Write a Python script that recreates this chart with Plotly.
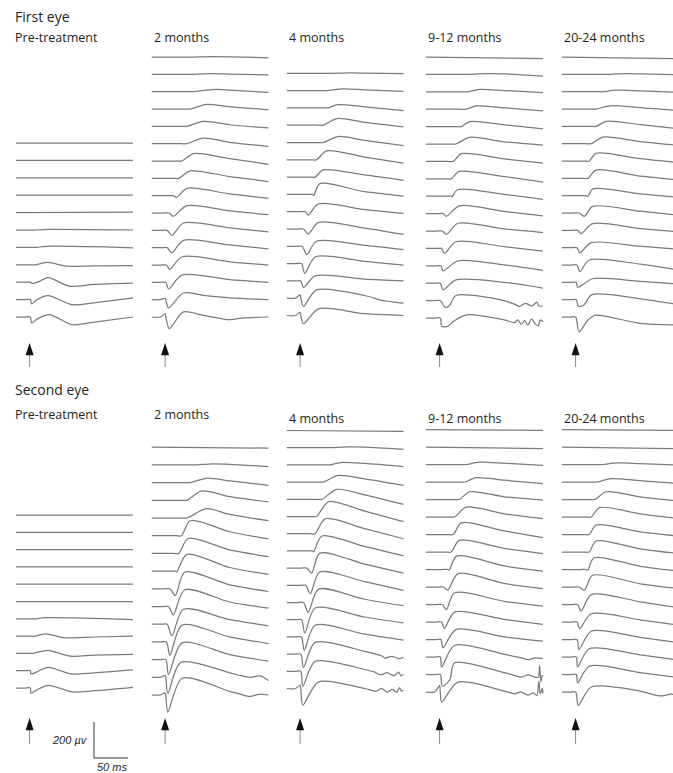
import plotly.graph_objects as go

# ---------------- DATA ----------------
# Each trace row (top trace first):
# [onset ms, a-wave depth uV, a-wave time ms, b-wave amp uV, b-wave time ms, value at 95 ms uV, value at 152 ms uV]
# Extra key points (ms, uV) per trace index for late troughs, flash artefacts and noise.

PANEL_LABELS = ["Pre-treatment", "2 months", "4 months", "9-12 months", "20-24 months"]
GROUP_LABELS = ["First eye", "Second eye"]

pre_1 = [
    [None, 0, 0, 0, 0, None, 0],
    [None, 0, 0, 0, 0, None, 0],
    [None, 0, 0, 0, 0, None, 0],
    [None, 0, 0, 0, 0, None, 0],
    [None, 0, 0, 0, 0, None, 2],
    [10, 0, 0, 3, 25, None, 0],
    [10, 0, 0, 6, 25, None, -2],
    [8, 0, 0, 13, 27, -6, -4],
    [1, 7, 4, 26, 27, -12, -5],
    [1, 24, 3, 22, 27, -18, 9],
    [1, 33, 3, 13, 29, -28, 0],
]
pre_1_extra = {7: [(55, -8)], 8: [(12, 0), (58, -22)],
               9: [(10, -2), (62, -28)], 10: [(12, -9), (63, -43)]}

m2_1 = [
    [40, 0, 0, 2, 70, 1, -4],
    [35, 0, 0, 4, 70, 2, -3],
    [37, 0, 0, 13, 75, 9, -4],
    [37, 0, 0, 26, 61, 12, -4],
    [32, 0, 0, 28, 56, 9, -9],
    [32, 0, 0, 31, 56, 8, -15],
    [24, 0, 0, 41, 42, 13, -18],
    [20, 0, 0, 41, 37, 10, -18],
    [12, 9, 17, 41, 32, 10, -15],
    [6, 18, 12, 41, 32, 12, -9],
    [3, 28, 10, 41, 27, 14, -9],
    [3, 28, 10, 41, 27, 15, -6],
    [2, 24, 7, 46, 25, 18, 0],
    [1, 37, 5, 41, 25, 15, 0],
    [1, 46, 5, 37, 27, 10, 0],
    [1, 65, 6, 28, 27, -15, 0],
]
m2_1_extra = {14: [(0, 8), (60, 22)],
              15: [(0, 18), (12, -40), (55, 10), (115, -5)]}

m4_1 = [
    [40, 0, 0, 2, 75, 1, -2],
    [40, 0, 0, 9, 63, 4, -4],
    [40, 0, 0, 18, 56, 6, -15],
    [34, 0, 0, 37, 54, 16, -9],
    [34, 0, 0, 33, 56, 12, -18],
    [24, 0, 0, 50, 39, 15, -18],
    [22, 0, 0, 40, 34, 12, -18],
    [18, 5, 20, 60, 29, 15, -9],
    [8, 18, 12, 43, 27, 12, -9],
    [5, 28, 12, 37, 27, 5, -30],
    [3, 46, 10, 28, 24, 5, -18],
    [2, 55, 7, 37, 22, 12, -9],
    [1, 37, 5, 28, 22, 10, 0],
    [1, 46, 5, 46, 24, 15, -28],
    [1, 46, 5, 37, 27, 10, 0],
]
m4_1_extra = {13: [(0, 18), (120, -12), (135, -20)], 14: [(0, 18)]}

m9_1 = [
    [None, 0, 0, 0, 0, None, -9],
    [40, 0, 0, 4, 70, 3, -9],
    [41, 0, 0, 13, 59, 7, -4],
    [39, 0, 0, 18, 54, 8, -9],
    [32, 0, 0, 28, 44, 10, -13],
    [24, 0, 0, 37, 44, 12, -6],
    [20, 0, 0, 43, 32, 14, -9],
    [17, 0, 0, 41, 29, 12, -18],
    [17, 4, 18, 37, 27, 10, -18],
    [5, 15, 10, 43, 29, 12, -13],
    [4, 18, 10, 43, 27, 12, -9],
    [3, 28, 7, 37, 24, 10, -15],
    [2, 28, 5, 28, 27, 5, -25],
    [1, 37, 5, 18, 24, 5, -28],
    [1, 37, 8, 28, 24, 0, -30],
    [1, 46, 3, 18, 39, -10, -20],
]
m9_1_extra = {14: [(14, -30), (110, -20), (118, -32), (126, -15), (136, -30), (143, -8), (146, -30)],
              15: [(12, -46), (20, -20), (110, -25), (115, -10), (120, -35), (125, -15),
                   (130, -40), (135, -5), (140, -30), (145, -45), (148, -10)]}

m20_1 = [
    [None, 0, 0, 0, 0, None, -9],
    [45, 0, 0, 4, 75, 3, -2],
    [40, 0, 0, 9, 60, 5, -4],
    [30, 0, 0, 18, 50, 8, -9],
    [30, 0, 0, 28, 45, 10, -13],
    [23, 0, 0, 37, 40, 12, -9],
    [20, 0, 0, 43, 30, 13, -9],
    [18, 0, 0, 46, 30, 12, -9],
    [15, 4, 18, 37, 25, 10, -9],
    [5, 18, 13, 37, 25, 10, -13],
    [3, 18, 8, 37, 25, 10, -9],
    [2, 28, 6, 28, 23, 8, -9],
    [2, 37, 6, 28, 20, 5, -28],
    [1, 28, 3, 20, 25, 5, -9],
    [1, 37, 4, 28, 24, 5, -28],
    [0, 83, 5, 9, 28, -35, -45],
]
m20_1_extra = {14: [(12, -30)], 15: [(18, -18)]}

pre_2 = [
    [None, 0, 0, 0, 0, None, 0],
    [None, 0, 0, 0, 0, None, 0],
    [None, 0, 0, 0, 0, None, 0],
    [None, 0, 0, 0, 0, None, 0],
    [None, 0, 0, 0, 0, None, 0],
    [None, 0, 0, 0, 0, None, 0],
    [10, 0, 0, 6, 22, None, -4],
    [8, 0, 0, 13, 24, -5, 0],
    [5, 0, 0, 17, 27, -10, -5],
    [1, 18, 2, 19, 27, -12, 4],
    [1, 28, 2, 15, 27, -15, 4],
]
pre_2_extra = {7: [(50, -9)], 8: [(59, -15)], 9: [(10, -8), (61, -18)], 10: [(10, -12), (63, -22)]}

m2_2 = [
    [None, 0, 0, 0, 0, None, -5],
    [45, 0, 0, 6, 70, 3, -9],
    [37, 0, 0, 24, 61, 10, -15],
    [32, 0, 0, 52, 54, 20, -9],
    [32, 0, 0, 52, 61, 20, -15],
    [24, 0, 0, 83, 37, 22, -18],
    [20, 0, 0, 83, 34, 20, -18],
    [15, 5, 17, 93, 32, 20, -18],
    [7, 37, 15, 93, 29, 22, -15],
    [5, 46, 12, 93, 29, 25, -9],
    [3, 65, 10, 83, 27, 25, -9],
    [2, 74, 7, 93, 25, 28, -9],
    [1, 83, 5, 93, 25, 28, -9],
    [1, 90, 4, 83, 23, 25, -18],
    [1, 95, 4, 93, 25, 20, 0],
]
m2_2_extra = {13: [(0, 10), (110, 10), (125, 0), (140, 8)],
              14: [(0, 12), (110, 5), (125, -8), (140, 5)]}

m4_2 = [
    [None, 0, 0, 0, 0, None, -5],
    [45, 0, 0, 4, 70, 3, -9],
    [44, 0, 0, 13, 59, 8, -9],
    [34, 0, 0, 37, 56, 18, -18],
    [32, 0, 0, 55, 54, 25, -28],
    [24, 0, 0, 83, 42, 30, -28],
    [22, 0, 0, 83, 37, 28, -28],
    [18, 4, 20, 83, 32, 25, -28],
    [10, 28, 17, 83, 29, 22, -28],
    [8, 46, 15, 74, 29, 20, -28],
    [5, 55, 12, 74, 27, 18, -18],
    [2, 74, 7, 65, 22, 15, -18],
    [2, 74, 6, 65, 22, 15, -18],
    [1, 74, 5, 65, 22, 15, -18],
    [1, 83, 4, 55, 22, 10, -18],
    [1, 92, 4, 37, 27, 0, -9],
]
m4_2_extra = {13: [(120, -10), (125, -22), (135, -12), (145, -25)],
              14: [(110, -5), (118, -20), (128, -8), (138, -25), (145, -5), (148, -25)],
              15: [(0, 18), (112, -15), (120, 0), (128, -20), (136, -5), (142, -22), (146, 5), (149, -15)]}

m9_2 = [
    [None, 0, 0, 0, 0, None, -5],
    [None, 0, 0, 0, 0, None, -9],
    [39, 0, 0, 13, 59, 7, -5],
    [37, 0, 0, 24, 54, 10, -9],
    [29, 0, 0, 43, 44, 15, -4],
    [22, 0, 0, 55, 39, 18, -9],
    [20, 0, 0, 65, 32, 20, -18],
    [17, 0, 0, 65, 29, 20, -9],
    [12, 4, 14, 74, 25, 20, -9],
    [6, 18, 12, 74, 27, 20, -9],
    [4, 28, 10, 65, 22, 18, -9],
    [3, 37, 7, 55, 22, 15, -13],
    [2, 46, 5, 55, 24, 15, -9],
    [1, 55, 3, 65, 22, 15, -9],
    [1, 65, 4, 65, 22, 10, -9],
    [1, 55, 3, 55, 27, 5, -9],
]
m9_2_extra = {13: [(120, -5), (130, -15), (140, -5)],
              14: [(15, -30), (110, -5), (120, -15), (130, -2), (138, -12), (145, -15),
                   (147, 50), (149, -40), (151, -5)],
              15: [(0, 37), (110, -10), (120, 0), (130, -18), (138, -5), (143, -20),
                   (146, 60), (148, -10), (151, 20)]}

m20_2 = [
    [None, 0, 0, 0, 0, None, -5],
    [None, 0, 0, 0, 0, None, -9],
    [40, 0, 0, 9, 60, 5, -4],
    [33, 0, 0, 18, 50, 8, -9],
    [28, 0, 0, 43, 45, 15, -9],
    [23, 0, 0, 52, 35, 18, -9],
    [20, 0, 0, 52, 30, 15, -9],
    [20, 0, 0, 61, 30, 18, -9],
    [15, 4, 18, 65, 27, 18, -9],
    [5, 18, 13, 65, 25, 18, -9],
    [3, 37, 8, 55, 23, 15, -18],
    [2, 37, 6, 46, 23, 12, -18],
    [2, 55, 5, 46, 23, 12, -18],
    [1, 55, 3, 46, 20, 12, -18],
    [1, 46, 3, 46, 20, 10, -18],
    [0, 74, 4, 28, 23, 5, -18],
]
m20_2_extra = {15: [(110, -10), (125, -22), (140, -12)]}

SCALE_MS = 50
SCALE_UV = 200
SCALE_LABELS = ["200 \u00b5v", "50 ms"]

# ---------------- LAYOUT (pixel geometry of the page) ----------------
W, H = 673, 773
MS_PER_PX = 50 / 34.0
UV_PER_PX = 200 / 36.0
T_START, T_END = -20.0, 152.0

# (data, extras, left px, bottom baseline px, spacing px, row)
panels = [
    (pre_1, pre_1_extra, 16, 317, 17.4, 0),
    (m2_1, m2_1_extra, 151.5, 317, 17.33, 0),
    (m4_1, m4_1_extra, 286.5, 315.5, 17.3, 0),
    (m9_1, m9_1_extra, 426, 318, 17.4, 0),
    (m20_1, m20_1_extra, 562, 317, 17.33, 0),
    (pre_2, pre_2_extra, 16, 688, 17.3, 1),
    (m2_2, m2_2_extra, 151.5, 695, 17.7, 1),
    (m4_2, m4_2_extra, 286.5, 688.5, 17.2, 1),
    (m9_2, m9_2_extra, 426, 692, 17.5, 1),
    (m20_2, m20_2_extra, 562, 692, 17.5, 1),
]
ROW_TOP = [30, 420]
ROW_BOT = [372, 770]
ARROW = [(343, 355, 367), (718, 730, 744)]  # tip, head base, shaft end (px)

LINE_COLOR = "#7a7a7a"


def build(row, extra):
    on, A, ta, B, tb, M, E = row
    pts = [(T_START, 0.0)]
    if on is not None:
        pts += [(on - 8, 0.0), (on, 0.0)]
        if A:
            pts.append((ta, -A))
        if B:
            pts.append((tb, B))
        if M is not None:
            pts.append((95.0, M))
    pts.append((T_END, E))
    pts += list(extra)
    pts.sort(key=lambda p: p[0])
    return [p[0] for p in pts], [p[1] for p in pts]


fig = go.Figure()
layout = dict(width=W, height=H, margin=dict(l=0, r=0, t=0, b=0),
              paper_bgcolor="white", plot_bgcolor="white", showlegend=False)

for k, (data, extra, left, bbot, sp, row) in enumerate(panels):
    ax = k + 1
    xn = "x" if ax == 1 else f"x{ax}"
    yn = "y" if ax == 1 else f"y{ax}"
    right = min(left + 120, W)
    x0 = T_START
    x1 = T_START + (right - left) * MS_PER_PX
    ptop, pbot = ROW_TOP[row], ROW_BOT[row]
    layout["xaxis" if ax == 1 else f"xaxis{ax}"] = dict(
        domain=[left / W, right / W], range=[x0, x1], visible=False, anchor=yn, fixedrange=True)
    layout["yaxis" if ax == 1 else f"yaxis{ax}"] = dict(
        domain=[1 - pbot / H, 1 - ptop / H],
        range=[(bbot - pbot) * UV_PER_PX, (bbot - ptop) * UV_PER_PX],
        visible=False, anchor=xn, fixedrange=True)
    n = len(data)
    for i, r in enumerate(data):
        off = (n - 1 - i) * sp * UV_PER_PX
        xs, ys = build(r, extra.get(i, []))
        fig.add_trace(go.Scatter(x=xs, y=[v + off for v in ys], mode="lines",
                                 line=dict(color=LINE_COLOR, width=1.25, shape="spline", smoothing=0.8),
                                 xaxis=xn, yaxis=yn, hoverinfo="skip"))
    # stimulus arrow at flash time (0 ms)
    tip, base, end = ARROW[row]
    fig.add_trace(go.Scatter(x=[0, 0], y=[(bbot - base + 2) * UV_PER_PX, (bbot - end) * UV_PER_PX],
                             mode="lines", line=dict(color="#8a8a8a", width=1),
                             xaxis=xn, yaxis=yn, hoverinfo="skip"))
    fig.add_trace(go.Scatter(x=[0], y=[(bbot - tip) * UV_PER_PX], mode="markers",
                             marker=dict(symbol="arrow", size=13, color="#111111", line=dict(width=0)),
                             xaxis=xn, yaxis=yn, hoverinfo="skip"))
    if k == 5:
        # calibration bar
        tx = T_START + (94 - left) * MS_PER_PX
        vy = (bbot - 758) * UV_PER_PX
        fig.add_trace(go.Scatter(x=[tx, tx, tx + SCALE_MS], y=[vy + SCALE_UV, vy, vy],
                                 mode="lines", line=dict(color="#333333", width=1),
                                 xaxis=xn, yaxis=yn, hoverinfo="skip"))

fig.update_layout(**layout)

TXT = "#231f20"
FONT = "Open Sans"
ann = []
ann.append(dict(text=GROUP_LABELS[0], x=13 / W, y=1 - 16 / H, size=14))
ann.append(dict(text=GROUP_LABELS[1], x=13 / W, y=1 - 390 / H, size=14))
col_x = [13, 152, 287, 426, 562]
row1_y = [38, 38, 38, 38, 38]
row2_y = [414, 414, 418, 418, 418]
for lab, cx, y1, y2 in zip(PANEL_LABELS, col_x, row1_y, row2_y):
    ann.append(dict(text=lab, x=cx / W, y=1 - y1 / H, size=12.5))
    ann.append(dict(text=lab, x=cx / W, y=1 - y2 / H, size=12.5))
for a in ann:
    fig.add_annotation(text=a["text"], x=a["x"], y=a["y"], xref="paper", yref="paper",
                       xanchor="left", yanchor="middle", showarrow=False,
                       font=dict(family=FONT, size=a["size"], color=TXT))
fig.add_annotation(text="<i>" + SCALE_LABELS[0] + "</i>", x=90 / W, y=1 - 740 / H, xref="paper", yref="paper",
                   xanchor="right", yanchor="middle", showarrow=False,
                   font=dict(family="Liberation Sans", size=11, color=TXT))
fig.add_annotation(text="<i>" + SCALE_LABELS[1] + "</i>", x=112 / W, y=1 - 767 / H, xref="paper", yref="paper",
                   xanchor="center", yanchor="middle", showarrow=False,
                   font=dict(family="Liberation Sans", size=11, color=TXT))

fig.write_html("out.html", config={"displayModeBar": False},
               post_script="document.body.style.margin='0';document.body.style.overflow='hidden';")
